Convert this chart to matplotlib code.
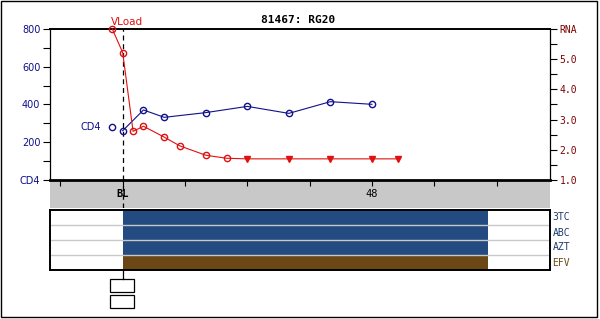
import matplotlib.pyplot as plt
from matplotlib.patches import Rectangle

# weeks relative to baseline (BL = 0)
cd4_weeks = [-2, 0, 4, 8, 16, 24, 32, 40, 48]
cd4_vals = [282, 261, 371, 332, 357, 390, 353, 415, 401]

vl_weeks = [-2, 0, 2, 4, 8, 11, 16, 20, 24, 32, 40, 48, 53]
vl_vals = [6.0, 5.22, 2.61, 2.78, 2.42, 2.13, 1.82, 1.72, 1.7, 1.7, 1.7, 1.7, 1.7]
vl_below = [False, False, False, False, False, False, False, False, True, True, True, True, True]

drugs = ['3TC', 'ABC', 'AZT', 'EFV']
drug_start = [0, 0, 0, 0]
drug_stop = [70.4, 70.4, 70.4, 70.4]
drug_colors = ['#234b82', '#234b82', '#234b82', '#6b4716']
drug_text_colors = ['#1f3a6e', '#1f3a6e', '#1f3a6e', '#6b4a16']

x_ticks = [-12, 0, 12, 24, 36, 48, 60, 72]
x_labels = {0: 'BL', 48: '48'}

XMIN, XMAX = -14, 82.3
W, H = 600, 319
navy = '#10108a'
red = '#e01010'
darkred = '#800000'


def fx(x):
    return x / W


def fy(y):
    return 1 - y / H


fig = plt.figure(figsize=(6, 3.19), dpi=100)
fig.patch.set_facecolor('white')

# outer frame
fig.patches.append(Rectangle((fx(1), fy(317)), fx(596), 316 / H, transform=fig.transFigure,
                             fill=False, edgecolor='black', lw=1))

# grey time band
axb = fig.add_axes([fx(50), fy(208), fx(500), 28 / H], zorder=0)
axb.set_facecolor('#c8c8c8')
axb.set_xlim(XMIN, XMAX)
axb.set_ylim(0, 1)
for s in axb.spines.values():
    s.set_visible(False)
axb.set_xticks([])
axb.set_yticks([])
for wk, lab in x_labels.items():
    axb.text(wk, 0.5, lab, ha='center', va='center', fontsize=7.5,
             family='DejaVu Sans Mono', fontweight='bold' if lab == 'BL' else 'normal')
axb.axvline(0, color='black', lw=0.9, ls=(0, (4, 3)))

# main plot
ax = fig.add_axes([fx(50), fy(180), fx(500), 151 / H], zorder=2)
ax.set_xlim(XMIN, XMAX)
ax.set_ylim(0, 800)
ax.set_xticks(x_ticks)
ax.set_xticklabels([])
ax.tick_params(axis='x', direction='out', length=4, width=0.8)
ax.set_yticks([0, 200, 400, 600, 800])
ax.set_yticks([100, 300, 500, 700], minor=True)
ax.set_yticklabels(['CD4', '200', '400', '600', '800'], color=navy, fontsize=7)
ax.tick_params(axis='y', which='both', direction='out', length=5, width=0.8, pad=2)
ax.spines['top'].set_linewidth(1.4)
ax.spines['bottom'].set_linewidth(2)
ax.spines['left'].set_linewidth(0.9)
ax.spines['right'].set_linewidth(0.9)

ax.axvline(0, color='black', lw=0.9, ls=(0, (4, 3)), zorder=1)

ax.plot(cd4_weeks[1:], cd4_vals[1:], color=navy, lw=0.8, zorder=3)
ax.plot(cd4_weeks, cd4_vals, ls='none', marker='o', ms=4.5, mfc='none', mec=navy, mew=1, zorder=4)
ax.text(cd4_weeks[0] - 2.2, cd4_vals[0], 'CD4', color=navy, fontsize=7, ha='right', va='center')

ax2 = ax.twinx()
ax2.set_ylim(1, 6)
ax2.set_yticks([1, 2, 3, 4, 5, 6])
ax2.set_yticks([1.5, 2.5, 3.5, 4.5, 5.5], minor=True)
ax2.set_yticklabels(['1.0', '2.0', '3.0', '4.0', '5.0', 'RNA'], color=darkred, fontsize=7,
                    family='DejaVu Sans Mono')
ax2.tick_params(axis='y', which='both', direction='out', length=5, width=0.8, pad=2)
for s in ax2.spines.values():
    s.set_visible(False)

ax2.plot(vl_weeks, vl_vals, color=red, lw=0.8, zorder=3, clip_on=False)
det_w = [w for w, b in zip(vl_weeks, vl_below) if not b]
det_v = [v for v, b in zip(vl_vals, vl_below) if not b]
lim_w = [w for w, b in zip(vl_weeks, vl_below) if b]
lim_v = [v for v, b in zip(vl_vals, vl_below) if b]
ax2.plot(det_w, det_v, ls='none', marker='o', ms=4.5, mfc='none', mec=red, mew=1, clip_on=False)
ax2.plot(lim_w, lim_v, ls='none', marker='v', ms=5, color=red)
ax2.text(vl_weeks[0] - 0.3, vl_vals[0] + 0.08, 'VLoad', color=red, fontsize=7.5, ha='left', va='bottom')

fig.text(fx(298), fy(20), '81467: RG20', ha='center', va='center', fontsize=8,
         family='DejaVu Sans Mono', fontweight='bold')

# drug panel
axd = fig.add_axes([fx(50), fy(270), fx(500), 60 / H])
axd.set_xlim(XMIN, XMAX)
axd.set_ylim(0, len(drugs))
axd.set_xticks([])
axd.set_yticks([])
for s in axd.spines.values():
    s.set_linewidth(1.4)
for i, d in enumerate(drugs):
    row = len(drugs) - 1 - i
    axd.barh(row + 0.5, drug_stop[i] - drug_start[i], left=drug_start[i], height=1,
             color=drug_colors[i], edgecolor='none')
    axd.text(1.005, (row + 0.5) / len(drugs), d, transform=axd.transAxes, ha='left', va='center',
             fontsize=7, color=drug_text_colors[i], family='DejaVu Sans Mono')
for r in range(1, len(drugs)):
    axd.axhline(r, color='#c8c8c8', lw=1)

# baseline connector and boxes below the drug panel
fig.lines.append(plt.Line2D([fx(122.7), fx(122.7)], [fy(270), fy(279)], transform=fig.transFigure,
                            color='black', lw=0.9))
for top in [279, 295]:
    fig.patches.append(Rectangle((fx(110), fy(top + 13)), fx(24), 13 / H, transform=fig.transFigure,
                                 fill=False, edgecolor='black', lw=0.9))

fig.savefig('out.png', dpi=100)
